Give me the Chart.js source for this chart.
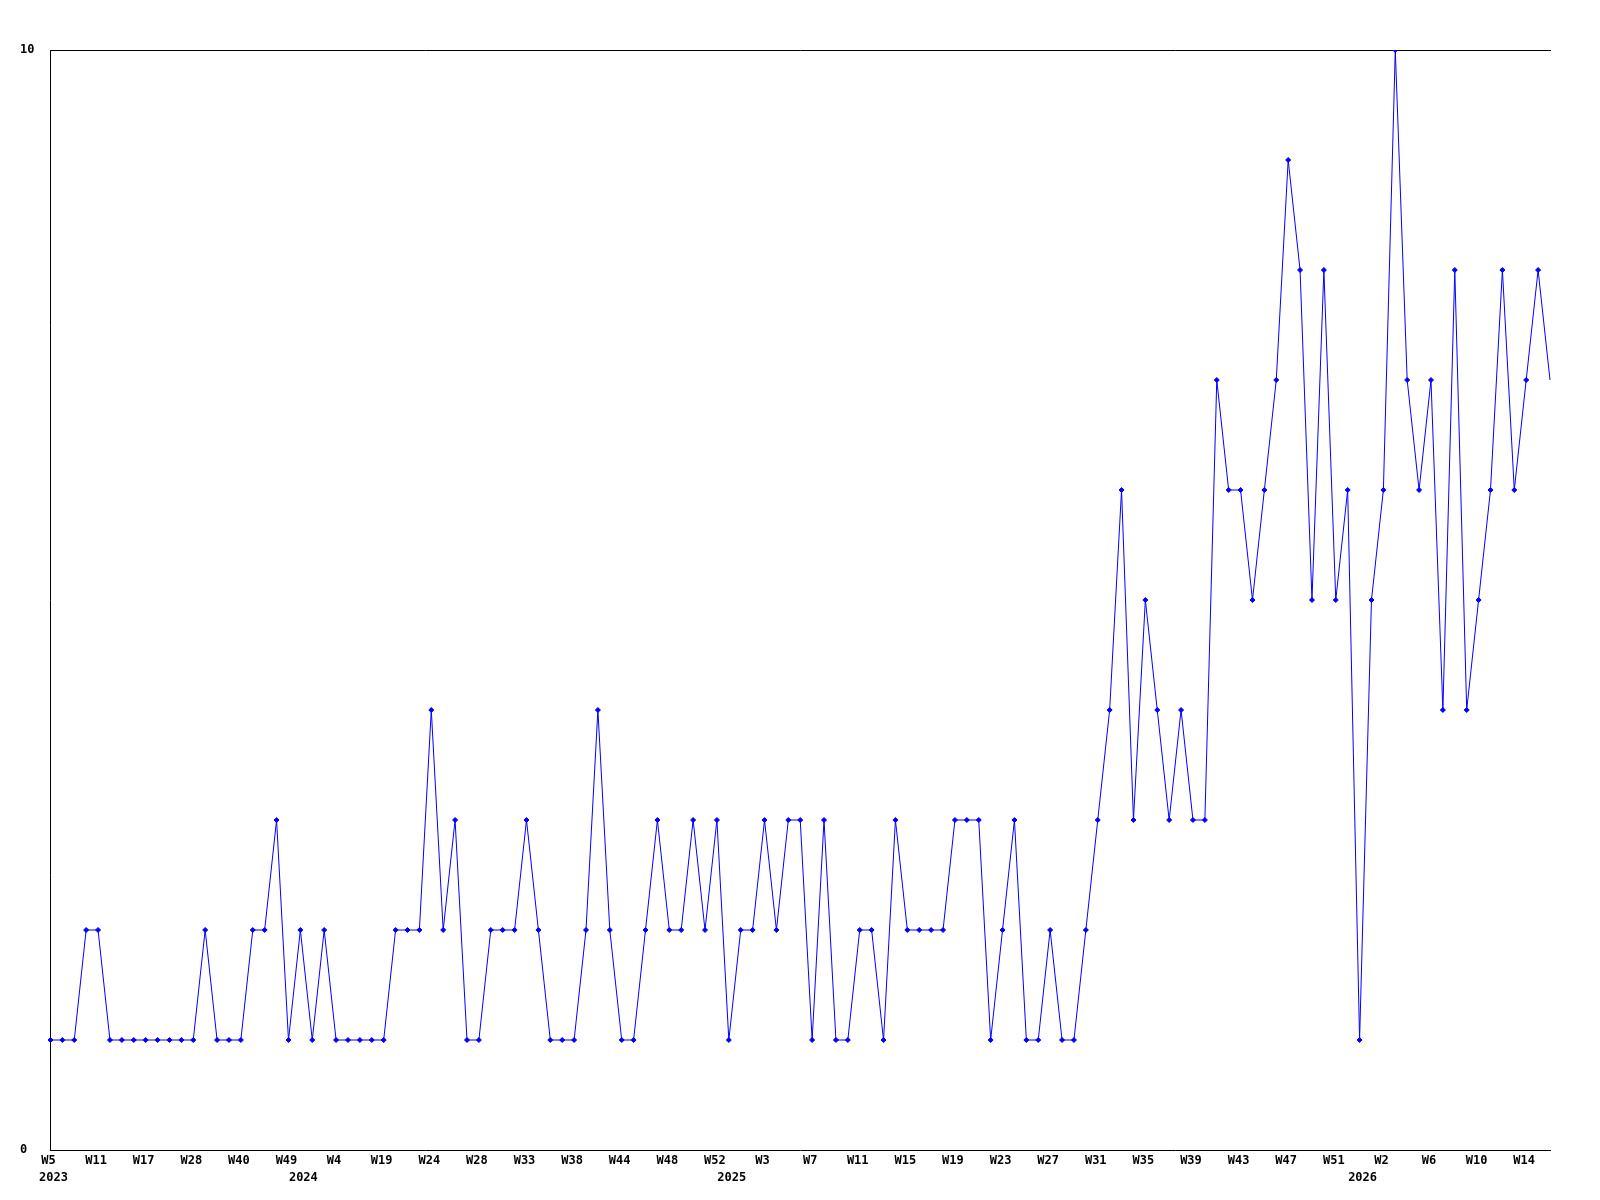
<!DOCTYPE html>
<html>
<head>
<meta charset="utf-8">
<script src="https://cdn.jsdelivr.net/npm/chart.js@4/dist/chart.umd.min.js"></script>
<style>
  body { margin: 0; background: #fff; }
  canvas { display: block; }
</style>
</head>
<body>
<canvas id="weekly" width="1600" height="1200"></canvas>
<script>
// weekly counts, one entry per week shown
const weekLabels = [
  'W5','W7','W8','W10','W11','W12','W14','W15','W17','W19',
  'W22','W25','W28','W31','W34','W37','W40','W42','W45','W47',
  'W49','W1','W2','W3','W4','W8','W11','W15','W19','W20',
  'W22','W23','W24','W25','W26','W27','W28','W29','W30','W32',
  'W33','W34','W35','W37','W38','W40','W41','W43','W44','W45',
  'W46','W47','W48','W49','W50','W51','W52','W0','W1','W2',
  'W3','W4','W5','W6','W7','W8','W9','W10','W11','W12',
  'W13','W14','W15','W16','W17','W18','W19','W20','W21','W22',
  'W23','W24','W25','W26','W27','W28','W29','W30','W31','W32',
  'W33','W34','W35','W36','W37','W38','W39','W40','W41','W42',
  'W43','W44','W45','W46','W47','W48','W49','W50','W51','W52',
  'W0','W1','W2','W3','W4','W5','W6','W7','W8','W9',
  'W10','W11','W12','W13','W14','W15','W16'
];

const counts = [
  1,1,1,2,2,1,1,1,1,1,
  1,1,1,2,1,1,1,2,2,3,
  1,2,1,2,1,1,1,1,1,2,
  2,2,4,2,3,1,1,2,2,2,
  3,2,1,1,1,2,4,2,1,1,
  2,3,2,2,3,2,3,1,2,2,
  3,2,3,3,1,3,1,1,2,2,
  1,3,2,2,2,2,3,3,3,1,
  2,3,1,1,2,1,1,2,3,4,
  6,3,5,4,3,4,3,3,7,6,
  6,5,6,7,9,8,5,8,5,6,
  1,5,6,10,7,6,7,4,8,4,
  5,6,8,6,7,8,7
];

// first week of each year
const yearStarts = [0, 21, 57, 110];
const yearNames = ['2023', '2024', '2025', '2026'];

const labelEvery = 4;
const yTicks = [0, 10];

Chart.defaults.font.family = "'DejaVu Sans Mono', monospace";
Chart.defaults.font.size = 12;
Chart.defaults.font.weight = 'bold';
Chart.defaults.color = '#000';

const lastIdx = counts.length - 1;

new Chart(document.getElementById('weekly').getContext('2d'), {
  type: 'line',
  data: {
    labels: weekLabels,
    datasets: [{
      data: counts,
      borderColor: '#0000ff',
      backgroundColor: '#0000ff',
      borderWidth: 1,
      tension: 0,
      fill: false,
      pointStyle: 'rectRot',
      pointRadius: (ctx) => ctx.dataIndex === lastIdx ? 0 : 2.5,
      pointBorderWidth: 1,
      pointBorderColor: '#0000ff',
      pointBackgroundColor: '#0000ff'
    }]
  },
  options: {
    responsive: false,
    animation: false,
    events: [],
    layout: {
      padding: { left: 20, right: 50, top: 50, bottom: 16 }
    },
    plugins: {
      legend: { display: false },
      tooltip: { enabled: false }
    },
    scales: {
      x: {
        type: 'category',
        position: 'bottom',
        weight: 0,
        offset: false,
        grid: { display: false, drawTicks: false },
        border: { display: true, color: '#000', width: 1 },
        ticks: {
          autoSkip: false,
          maxRotation: 0,
          minRotation: 0,
          padding: 5,
          labelOffset: -2,
          font: { lineHeight: 1 },
          callback: (value, i) => i % labelEvery === 0 ? weekLabels[i] : ''
        }
      },
      years: {
        type: 'category',
        position: 'bottom',
        weight: 1,
        offset: false,
        grid: { display: false, drawTicks: false },
        border: { display: false },
        ticks: {
          autoSkip: false,
          maxRotation: 0,
          minRotation: 0,
          padding: 0,
          labelOffset: 3,
          font: { lineHeight: 1 },
          callback: (value, i) => {
            const k = yearStarts.indexOf(i);
            return k === -1 ? '' : yearNames[k];
          }
        }
      },
      top: {
        type: 'category',
        position: 'top',
        offset: false,
        grid: { display: false, drawTicks: false },
        border: { display: true, color: '#000', width: 1 },
        ticks: { display: false }
      },
      y: {
        min: yTicks[0],
        max: yTicks[1],
        grid: { display: false, drawTicks: false },
        border: { display: true, color: '#000', width: 1 },
        afterBuildTicks: (axis) => {
          axis.ticks = yTicks.map((v) => ({ value: v }));
        },
        ticks: {
          padding: 8,
          crossAlign: 'far'
        }
      }
    }
  }
});
</script>
</body>
</html>
